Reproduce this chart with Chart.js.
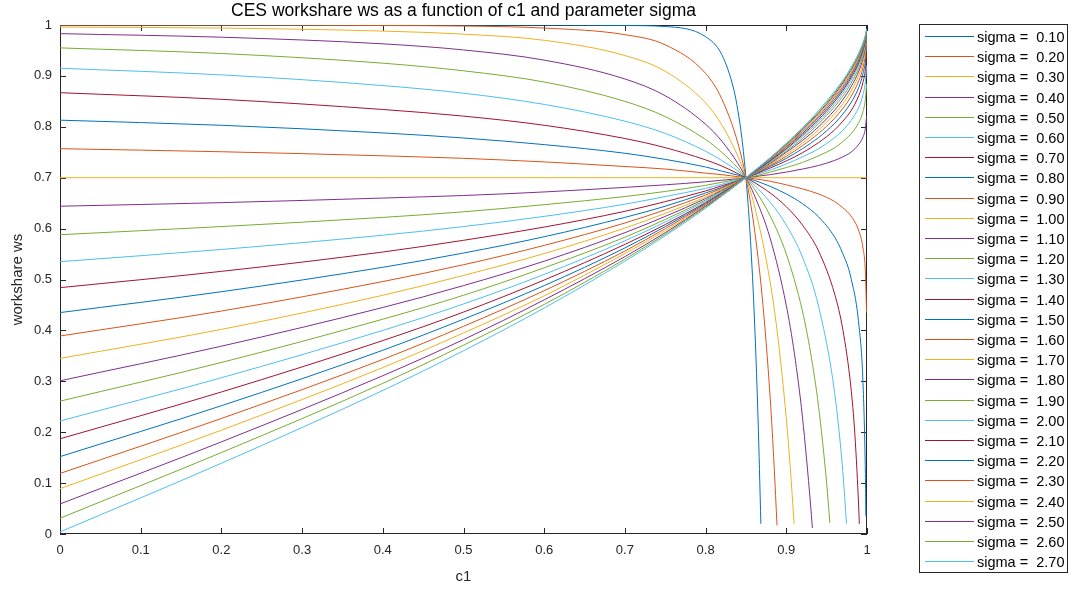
<!DOCTYPE html>
<html>
<head>
<meta charset="utf-8">
<script src="https://cdn.jsdelivr.net/npm/chart.js@4/dist/chart.umd.min.js"></script>
<style>
  html, body { margin: 0; padding: 0; background: #fff; }
  #wrap { width: 1074px; height: 590px; }
</style>
</head>
<body>
<div id="wrap"><canvas id="chartCES" width="1074" height="590"></canvas></div>
<script>
// ---- DATA ----
const SIGMAS = [0.1, 0.2, 0.3, 0.4, 0.5, 0.6, 0.7, 0.8, 0.9, 1.0, 1.1, 1.2, 1.3, 1.4,
                1.5, 1.6, 1.7, 1.8, 1.9, 2.0, 2.1, 2.2, 2.3, 2.4, 2.5, 2.6, 2.7];

// shared c1 grid
const C1 = [0, 0.2, 0.4, 0.5, 0.6, 0.7, 0.75, 0.8, 0.82, 0.84, 0.85, 0.86, 0.88, 0.9,
            0.92, 0.94, 0.96, 0.97, 0.98, 0.99, 0.995, 0.998, 0.9995];

// workshare ws, one array per sigma (null = line already ended)
const ws010 = [1.000, 1.000, 1.000, 1.000, 1.000, 0.999, 0.997, 0.977, 0.942, 0.832, 0.700, 0.442, null, null, null, null, null, null, null, null, null, null, null];
const ws020 = [1.000, 1.000, 0.999, 0.998, 0.994, 0.981, 0.961, 0.905, 0.855, 0.768, 0.700, 0.605, 0.268, null, null, null, null, null, null, null, null, null, null];
const ws030 = [0.996, 0.994, 0.988, 0.982, 0.970, 0.940, 0.909, 0.847, 0.804, 0.742, 0.700, 0.648, 0.495, 0.227, null, null, null, null, null, null, null, null, null];
const ws040 = [0.983, 0.976, 0.963, 0.951, 0.931, 0.894, 0.861, 0.805, 0.772, 0.728, 0.700, 0.667, 0.581, 0.449, 0.230, null, null, null, null, null, null, null, null];
const ws050 = [0.955, 0.944, 0.925, 0.910, 0.888, 0.850, 0.820, 0.775, 0.750, 0.719, 0.700, 0.679, 0.625, 0.550, 0.438, 0.250, null, null, null, null, null, null, null];
const ws060 = [0.915, 0.902, 0.881, 0.866, 0.844, 0.811, 0.787, 0.752, 0.734, 0.713, 0.700, 0.686, 0.652, 0.607, 0.544, 0.447, 0.276, 0.123, null, null, null, null, null];
const ws070 = [0.867, 0.854, 0.834, 0.821, 0.803, 0.777, 0.759, 0.735, 0.723, 0.708, 0.700, 0.691, 0.670, 0.643, 0.607, 0.556, 0.471, 0.402, 0.289, 0.042, null, null, null];
const ws080 = [0.813, 0.803, 0.788, 0.778, 0.765, 0.748, 0.736, 0.721, 0.713, 0.705, 0.700, 0.695, 0.683, 0.668, 0.649, 0.623, 0.583, 0.551, 0.504, 0.410, 0.298, 0.117, null];
const ws090 = [0.757, 0.751, 0.743, 0.738, 0.731, 0.722, 0.717, 0.709, 0.706, 0.702, 0.700, 0.698, 0.693, 0.686, 0.678, 0.668, 0.653, 0.641, 0.625, 0.595, 0.562, 0.515, 0.435];
const ws100 = [0.700, 0.700, 0.700, 0.700, 0.700, 0.700, 0.700, 0.700, 0.700, 0.700, 0.700, 0.700, 0.700, 0.700, 0.700, 0.700, 0.700, 0.700, 0.700, 0.700, 0.700, 0.700, 0.700];
const ws110 = [0.644, 0.651, 0.660, 0.665, 0.672, 0.681, 0.686, 0.692, 0.695, 0.698, 0.700, 0.702, 0.706, 0.711, 0.717, 0.724, 0.734, 0.741, 0.750, 0.766, 0.780, 0.797, 0.821];
const ws120 = [0.588, 0.604, 0.622, 0.633, 0.647, 0.663, 0.673, 0.685, 0.691, 0.697, 0.700, 0.703, 0.711, 0.720, 0.730, 0.743, 0.759, 0.771, 0.786, 0.809, 0.830, 0.854, 0.884];
const ws130 = [0.535, 0.559, 0.587, 0.604, 0.624, 0.648, 0.663, 0.679, 0.687, 0.696, 0.700, 0.705, 0.715, 0.727, 0.741, 0.757, 0.779, 0.793, 0.812, 0.839, 0.863, 0.889, 0.920];
const ws140 = [0.484, 0.516, 0.554, 0.577, 0.603, 0.634, 0.653, 0.674, 0.684, 0.694, 0.700, 0.706, 0.719, 0.733, 0.749, 0.769, 0.794, 0.811, 0.831, 0.862, 0.887, 0.913, 0.941];
const ws150 = [0.435, 0.476, 0.524, 0.552, 0.584, 0.622, 0.644, 0.670, 0.681, 0.694, 0.700, 0.707, 0.722, 0.738, 0.757, 0.779, 0.807, 0.825, 0.847, 0.878, 0.904, 0.929, 0.955];
const ws160 = [0.389, 0.438, 0.496, 0.529, 0.567, 0.611, 0.637, 0.666, 0.679, 0.693, 0.700, 0.708, 0.724, 0.742, 0.763, 0.787, 0.817, 0.836, 0.859, 0.891, 0.916, 0.941, 0.965];
const ws170 = [0.345, 0.402, 0.469, 0.508, 0.551, 0.601, 0.630, 0.662, 0.677, 0.692, 0.700, 0.708, 0.726, 0.746, 0.768, 0.794, 0.826, 0.845, 0.869, 0.902, 0.926, 0.949, 0.971];
const ws180 = [0.301, 0.369, 0.445, 0.488, 0.536, 0.592, 0.624, 0.659, 0.675, 0.691, 0.700, 0.709, 0.728, 0.750, 0.773, 0.800, 0.833, 0.853, 0.878, 0.910, 0.934, 0.956, 0.976];
const ws190 = [0.261, 0.337, 0.422, 0.469, 0.523, 0.583, 0.618, 0.656, 0.673, 0.691, 0.700, 0.710, 0.730, 0.752, 0.777, 0.806, 0.840, 0.860, 0.885, 0.917, 0.940, 0.961, 0.980];
const ws200 = [0.222, 0.307, 0.400, 0.452, 0.510, 0.576, 0.613, 0.654, 0.671, 0.690, 0.700, 0.710, 0.732, 0.755, 0.781, 0.810, 0.845, 0.866, 0.891, 0.923, 0.945, 0.965, 0.983];
const ws210 = [0.187, 0.279, 0.380, 0.436, 0.499, 0.569, 0.608, 0.651, 0.670, 0.690, 0.700, 0.711, 0.733, 0.757, 0.784, 0.814, 0.850, 0.871, 0.896, 0.927, 0.950, 0.969, 0.985];
const ws220 = [0.152, 0.252, 0.361, 0.422, 0.488, 0.562, 0.604, 0.649, 0.669, 0.689, 0.700, 0.711, 0.734, 0.760, 0.787, 0.818, 0.854, 0.875, 0.900, 0.932, 0.953, 0.972, 0.987];
const ws230 = [0.119, 0.227, 0.343, 0.408, 0.478, 0.556, 0.600, 0.647, 0.667, 0.689, 0.700, 0.712, 0.736, 0.761, 0.790, 0.821, 0.858, 0.879, 0.904, 0.935, 0.956, 0.974, 0.988];
const ws240 = [0.089, 0.204, 0.327, 0.395, 0.468, 0.551, 0.596, 0.645, 0.666, 0.689, 0.700, 0.712, 0.737, 0.763, 0.792, 0.824, 0.861, 0.883, 0.907, 0.938, 0.959, 0.976, 0.989];
const ws250 = [0.059, 0.181, 0.311, 0.382, 0.460, 0.545, 0.592, 0.644, 0.665, 0.688, 0.700, 0.712, 0.738, 0.765, 0.794, 0.827, 0.864, 0.886, 0.911, 0.941, 0.961, 0.978, 0.990];
const ws260 = [0.031, 0.160, 0.296, 0.371, 0.451, 0.540, 0.589, 0.642, 0.664, 0.688, 0.700, 0.713, 0.739, 0.766, 0.796, 0.829, 0.867, 0.889, 0.913, 0.943, 0.963, 0.979, 0.991];
const ws270 = [0.004, 0.139, 0.282, 0.360, 0.444, 0.536, 0.586, 0.640, 0.664, 0.688, 0.700, 0.713, 0.739, 0.768, 0.798, 0.832, 0.870, 0.891, 0.916, 0.946, 0.965, 0.980, 0.992];

// extra [c1, ws] points on the steep drops (last one = where the line stops)
const tail010 = [[0.835, 0.873], [0.845, 0.777], [0.855, 0.593], [0.865, 0.226], [0.8685, 0.02]];
const tail020 = [[0.87, 0.468], [0.885, 0.131], [0.8885, 0.017]];
const tail030 = [[0.89, 0.381], [0.905, 0.129], [0.9097, 0.02]];
const tail040 = [[0.91, 0.355], [0.93, 0.059], [0.9323, 0.012]];
const tail050 = [[0.93, 0.357], [0.95, 0.100], [0.954, 0.022]];
const tail060 = [[0.9746, 0.02]];
const tail070 = [[0.985, 0.195], [0.9905, 0.02]];
const tail080 = [[0.9986, 0.035]];

const WS = [ws010, ws020, ws030, ws040, ws050, ws060, ws070, ws080, ws090, ws100, ws110, ws120, ws130, ws140,
            ws150, ws160, ws170, ws180, ws190, ws200, ws210, ws220, ws230, ws240, ws250, ws260, ws270];
const TAILS = [tail010, tail020, tail030, tail040, tail050, tail060, tail070, tail080];

// MATLAB default colour order
const COLORS = ['#0072BD', '#D95319', '#EDB120', '#7E2F8E', '#77AC30', '#4DBEEE', '#A2142F'];

const FONT = '"Liberation Sans", Arial, Helvetica, sans-serif';
const AXIS = '#262626';

// ---- DATASETS ----
const datasets = SIGMAS.map((s, i) => {
  let pts = [];
  WS[i].forEach((y, k) => { if (y !== null) pts.push({ x: C1[k], y: y }); });
  (TAILS[i] || []).forEach(([x, y]) => pts.push({ x, y }));
  pts.sort((a, b) => a.x - b.x);
  return {
    label: 'sigma =  ' + s.toFixed(2),
    data: pts,
    borderColor: COLORS[i % 7],
    borderWidth: 1,
    pointRadius: 0,
    fill: false,
    cubicInterpolationMode: 'monotone',
    order: -i
  };
});

// ---- PLUGINS ----
const framePlugin = {
  id: 'frame',
  beforeDatasetsDraw(chart) {
    const { ctx, chartArea: a, scales } = chart;
    ctx.save();
    ctx.strokeStyle = AXIS;
    ctx.lineWidth = 1;
    ctx.beginPath();
    for (let v = 0; v <= 10; v++) {
      const x = Math.round(scales.x.getPixelForValue(v / 10)) + 0.5;
      const y = Math.round(scales.y.getPixelForValue(v / 10)) + 0.5;
      ctx.moveTo(x, a.bottom); ctx.lineTo(x, a.bottom - 6);
      ctx.moveTo(x, a.top);    ctx.lineTo(x, a.top + 6);
      ctx.moveTo(a.left, y);   ctx.lineTo(a.left + 6, y);
      ctx.moveTo(a.right, y);  ctx.lineTo(a.right - 6, y);
    }
    ctx.stroke();
    ctx.strokeRect(a.left + 0.5, a.top + 0.5, a.right - a.left - 1, a.bottom - a.top - 1);
    ctx.restore();
  },
  afterDraw(chart) {
    const { ctx, chartArea: a } = chart;
    ctx.save();
    ctx.fillStyle = '#000';
    ctx.textAlign = 'center';
    ctx.textBaseline = 'middle';
    ctx.font = '17.5px ' + FONT;
    ctx.fillText('CES workshare ws as a function of c1 and parameter sigma', (a.left + a.right) / 2, 11);
    ctx.fillStyle = AXIS;
    ctx.font = '15px ' + FONT;
    ctx.fillText('c1', (a.left + a.right) / 2, 577);
    ctx.translate(18, (a.top + a.bottom) / 2);
    ctx.rotate(-Math.PI / 2);
    ctx.fillText('workshare ws', 0, 0);
    ctx.restore();

    // legend box
    const bx = 919.5, by = 24.5, bw = 148, bh = 548;
    ctx.save();
    ctx.fillStyle = '#fff';
    ctx.fillRect(bx, by, bw, bh);
    ctx.strokeStyle = AXIS;
    ctx.lineWidth = 1;
    ctx.strokeRect(bx, by, bw, bh);
    ctx.font = '14.5px ' + FONT;
    ctx.textBaseline = 'middle';
    ctx.textAlign = 'left';
    chart.data.datasets.forEach((d, i) => {
      const y = Math.round(36 + i * 20.2) + 0.5;
      ctx.strokeStyle = d.borderColor;
      ctx.beginPath();
      ctx.moveTo(925, y);
      ctx.lineTo(974, y);
      ctx.stroke();
      ctx.fillStyle = '#000';
      ctx.fillText(d.label, 977, y + 1);
    });
    ctx.restore();
  }
};

// ---- CHART ----
const tickFont = { family: FONT, size: 13 };
new Chart(document.getElementById('chartCES'), {
  type: 'line',
  data: { datasets },
  options: {
    responsive: false,
    animation: false,
    events: [],
    layout: { padding: { top: 25, right: 207, left: 0, bottom: 0 } },
    plugins: { legend: { display: false }, tooltip: { enabled: false } },
    scales: {
      x: {
        type: 'linear', min: 0, max: 1,
        grid: { display: false, drawTicks: false },
        border: { display: false },
        ticks: { stepSize: 0.1, padding: 9, color: AXIS, font: tickFont, maxRotation: 0,
                 callback: v => String(Math.round(v * 10) / 10) },
        afterFit: s => { s.height = 56; }
      },
      y: {
        type: 'linear', min: 0, max: 1,
        grid: { display: false, drawTicks: false },
        border: { display: false },
        ticks: { stepSize: 0.1, padding: 8, color: AXIS, font: tickFont,
                 callback: v => String(Math.round(v * 10) / 10) },
        afterFit: s => { s.width = 60; }
      }
    }
  },
  plugins: [framePlugin]
});
</script>
</body>
</html>
